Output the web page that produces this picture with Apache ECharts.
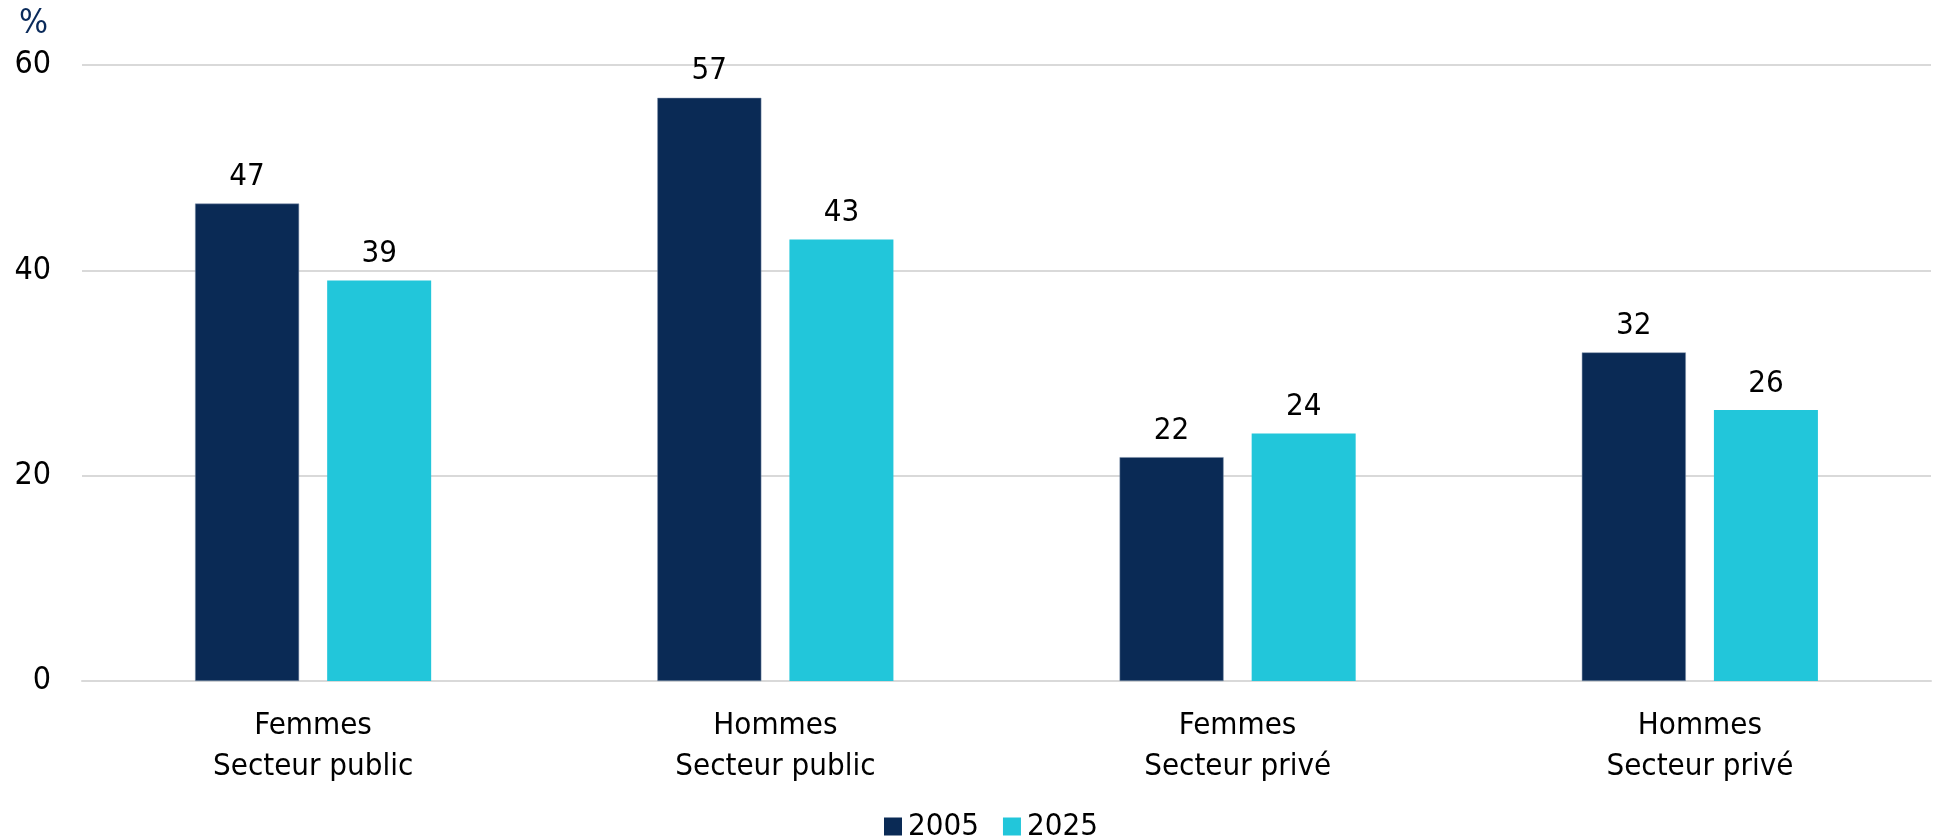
<!DOCTYPE html>
<html><head><meta charset="utf-8">
<script src="https://cdn.jsdelivr.net/npm/echarts@6/dist/echarts.min.js"></script>
<style>html,body{margin:0;padding:0;background:#fff}#c{width:1944px;height:839px}</style>
</head><body><div id="c"></div>
<script>
const categories = ["Femmes\nSecteur public", "Hommes\nSecteur public", "Femmes\nSecteur privé", "Hommes\nSecteur privé"];
const seriesNames = ["2005", "2025"];
const values2005 = [46.5, 56.8, 21.8, 32.0];
const values2025 = [39.0, 43.0, 24.1, 26.4];
const yTicks = [0, 20, 40, 60];

const FONT = "DejaVu Sans Condensed";
const FS = 31;
const chart = echarts.init(document.getElementById('c'));
const labelCfg = {
  show: true, position: 'top', distance: 11,
  color: '#000', fontFamily: FONT, fontSize: FS,
  formatter: p => Math.round(p.value)
};
chart.setOption({
  animation: false,
  textStyle: { fontFamily: FONT },
  graphic: [{ type: 'text', left: 19, top: 7, style: { text: '%', fill: '#0a2a5a', font: '34px "' + FONT + '"' } }],
  legend: {
    left: 879, top: 806, itemWidth: 18, itemHeight: 18, itemGap: 24,
    icon: 'rect',
    itemStyle: { borderWidth: 0 },
    textStyle: { color: '#000', fontFamily: FONT, fontSize: FS, padding: [0, 0, 0, 1] },
    data: seriesNames
  },
  grid: { left: 82, right: 13, top: 65, bottom: 158 },
  xAxis: {
    type: 'category', data: categories,
    axisLine: { show: true, lineStyle: { color: '#d9d9d9', width: 2 } },
    axisTick: { show: false },
    axisLabel: { color: '#000', fontFamily: FONT, fontSize: FS, lineHeight: 41, margin: 24 }
  },
  yAxis: {
    type: 'value', min: yTicks[0], max: yTicks[yTicks.length - 1], interval: 20,
    axisLine: { show: false }, axisTick: { show: false },
    splitLine: { lineStyle: { color: '#d9d9d9', width: 2 } },
    axisLabel: { color: '#000', fontFamily: FONT, fontSize: FS + 1, margin: 31 }
  },
  series: [
    { name: seriesNames[0], type: 'bar', data: values2005, barWidth: 104, barGap: '27%',
      itemStyle: { color: '#0a2a55', borderColor: '#7d8fa8', borderWidth: 0.5 }, label: labelCfg },
    { name: seriesNames[1], type: 'bar', data: values2025, barWidth: 104,
      itemStyle: { color: '#22c6da' }, label: labelCfg }
  ]
});
</script></body></html>
